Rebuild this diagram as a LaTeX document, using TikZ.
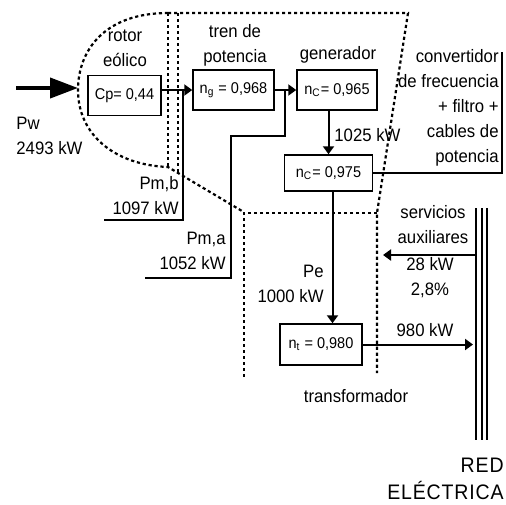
\documentclass[tikz,border=0pt]{standalone}
\usepackage{fontspec}
\setmainfont{Liberation Sans}[FakeStretch=0.93]
\usetikzlibrary{positioning,arrows.meta}

\begin{document}
\begin{tikzpicture}[x=0.5pt, y=-0.5pt, font=\fontsize{9}{12.5}\selectfont,
  box/.style={draw, line width=0.75pt, minimum height=20pt, inner sep=1pt, font=\fontsize{7.8}{9}\selectfont},
  flow/.style={line width=1pt},
  arr/.style={flow, -{Triangle[length=4pt, width=5.5pt]}},
  big/.style={line width=2pt, -{Triangle[length=14pt, width=10pt]}},
  bound/.style={line width=1.1pt, dash pattern=on 1.6pt off 1.4pt},
  lbl/.style={inner sep=0pt, align=center}]
\useasboundingbox (0,0) rectangle (506,504);
% boxes
\node[box, minimum width=36.5pt] (cp) at (124.5,95.5) {Cp= 0,44};
\node[box, minimum width=40.5pt] (ng) at (233.5,90) {n\textsubscript{g} = 0,968};
\node[box, minimum width=40pt] (gen) at (337,90) {n\textsubscript{C}= 0,965};
\node[box, minimum width=44pt, minimum height=18pt] (conv) at (328.5,173) {n\textsubscript{C}= 0,975};
\node[box, minimum width=41pt, minimum height=20.5pt] (nt) at (321,344.5) {n\textsubscript{t} = 0,980};
% free ends
\coordinate (pwin) at (16,88);
\coordinate (pwtip) at (78,88);
\coordinate (pmbj) at (183,220);
\coordinate (pmbend) at (104,220);
\coordinate (pmaj) at (285,136);
\coordinate (pmaend) at (145,278);
\coordinate (brk) at (502,52);
\coordinate (busin) at (473,0);
\coordinate (auxsrc) at (476,255);
\coordinate (auxtip) at (383,255);
% power flow
\draw[big] (pwin) -- (pwtip);
\draw[arr] (cp.east |- ng.west) -- (ng.west);
\draw[arr] (ng.east) -- (gen.west);
\draw[flow] (pmbj |- ng.west) -- (pmbj) -- (pmbend);
\draw[flow] (pmaj |- ng.east) -- (pmaj) -- ++(-54,0) -- ++(0,142) -- (pmaend);
\draw[arr] (gen.south -| conv.north) -- (conv.north);
\draw[flow] (conv.east) -| (brk);
\draw[arr] ([xshift=2pt]conv.south) -- ([xshift=2pt]conv.south |- nt.north);
\draw[arr] (nt.east) -- (nt.east -| busin);
\draw[arr] (auxsrc) -- (auxtip);
% red electrica
\foreach \bx in {476,481.5,487} \draw[flow] (\bx,208) -- (\bx,440);
% boundaries
\draw[bound] (168,13) .. controls (105,13) and (78,50) .. (78,90)
  .. controls (78,135) and (115,165) .. (168,167) -- (242,211);
\draw[bound] (168,13) -- (168,167);
\draw[bound] (178,13) -- (178,172);
\draw[bound] (168,13) -- (408,13) -- (377,213) -- (377,373);
\draw[bound] (377,213) -- (244,213) -- (244,378);
% labels
\node[lbl] (rotor) at (125,48) {rotor\\eólico};
\node[lbl] (tren) at (235,45) {tren de\\potencia};
\node[lbl] (genlbl) at (338,55) {generador};
\node[lbl, anchor=east, align=right] (convlbl) at (499,107.5) {convertidor\\de frecuencia\\+ filtro +\\cables de\\potencia};
\node[lbl, anchor=west, align=left] (pw) at (16,136) {Pw\\2493 kW};
\node[lbl, anchor=east, align=right] (pmb) at (179,196) {Pm,b\\1097 kW};
\node[lbl, anchor=east, align=right] (pma) at (226,250.5) {Pm,a\\1052 kW};
\node[lbl, anchor=west] (p1025) at (334,135) {1025 kW};
\node[lbl, anchor=east, align=right] (pe) at (324,283.5) {Pe\\1000 kW};
\node[lbl] (aux) at (433,224.5) {servicios\\auxiliares};
\node[lbl] (p28) at (430,277.5) {28 kW\\2,8\%};
\node[lbl] (p980) at (425,330) {980 kW};
\node[lbl] (trafo) at (356,396) {transformador};
\node[lbl, anchor=east, align=right, font=\fontsize{10.5}{13.5}\selectfont\addfontfeature{LetterSpace=4}] (red) at (504,478.5) {RED\\ELÉCTRICA};
\end{tikzpicture}
\end{document}
